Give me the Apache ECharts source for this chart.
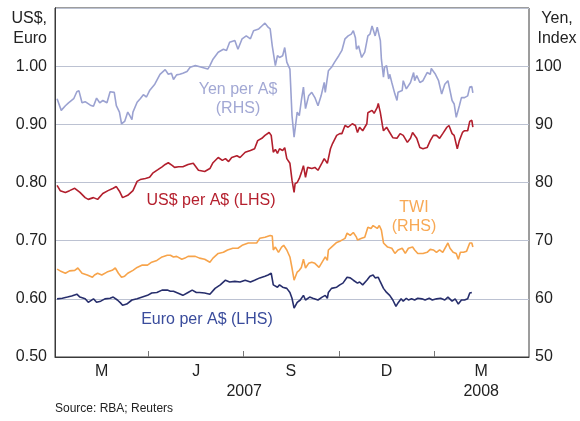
<!DOCTYPE html>
<html>
<head>
<meta charset="utf-8">
<script src="https://cdn.jsdelivr.net/npm/echarts@6/dist/echarts.min.js"></script>
<style>
  html, body { margin: 0; padding: 0; background: #fff; }
  #chart { width: 580px; height: 421px; }
</style>
</head>
<body>
<div id="chart"></div>
<script>
// x values are days since 1 Jan 2007
var quarterTicks = [90, 181, 273, 365];
var quarterLabelDays = [45, 136, 227, 319, 410];
var quarterLabels = ['M', 'J', 'S', 'D', 'M'];
var yearLabelDays = [182, 410];
var yearLabels = ['2007', '2008'];

// Yen per A$ (RHS)
var yenPoints = [
  [2,94.4],[6,92.4],[10,93.2],[13,93.7],[18,94.4],[21,95.6],[23,95.8],[26,93.7],[29,93.9],[34,93.3],
  [37,93.1],[40,94.5],[43,93.7],[46,94.1],[50,93.7],[53,95.6],[57,95.5],[59,93.2],[62,92.1],[64,90.1],
  [67,90.5],[70,92.1],[72,91.5],[74,90.8],[75,92.1],[79,93.8],[82,94.4],[85,95.1],[88,94.7],[91,95.8],
  [96,96.9],[101,98.6],[106,99.4],[109,98.6],[112,98.8],[114,97.7],[117,98.5],[120,98.6],[123,98.8],[127,99.1],
  [130,99.8],[133,100.0],[135,100.1],[141,99.8],[147,99.5],[149,100.1],[152,101.2],[157,102.4],[162,102.9],[165,102.7],
  [168,104.1],[173,104.4],[176,102.9],[180,104.7],[184,105.2],[188,104.7],[191,106.1],[196,106.4],[199,106.9],[202,107.4],
  [205,106.7],[207,106.4],[209,103.5],[212,100.1],[214,101.8],[216,101.5],[219,101.8],[221,103.2],[223,100.7],[226,99.5],
  [228,91.5],[230,87.8],[233,92.1],[235,91.5],[237,94.1],[239,96.4],[241,92.7],[244,94.9],[247,95.5],[250,94.6],
  [253,93.2],[256,94.9],[259,97.2],[260,95.5],[263,99.2],[266,99.8],[269,100.7],[273,101.8],[276,102.7],[279,104.7],
  [282,105.2],[285,105.5],[287,106.1],[289,104.9],[290,102.9],[292,103.5],[295,101.5],[298,102.4],[301,105.2],[303,105.5],
  [305,106.9],[308,105.2],[310,106.7],[313,104.4],[314,101.2],[316,98.1],[317,99.8],[319,100.1],[321,97.8],[322,98.6],
  [324,97.2],[327,95.2],[329,94.1],[330,95.5],[334,95.8],[335,97.5],[338,96.1],[342,97.2],[345,98.9],[346,97.5],
  [348,98.4],[351,97.2],[354,97.5],[358,98.9],[361,98.6],[362,99.6],[366,98.6],[369,97.5],[372,95.2],[375,96.9],
  [378,97.5],[382,94.1],[384,93.5],[386,91.2],[389,93.2],[391,94.6],[394,94.6],[397,94.9],[399,96.4],[401,96.5],
  [402,95.4]
];

// US$ per A$ (LHS)
var usdPoints = [
  [2,0.795],[5,0.786],[10,0.783],[14,0.786],[19,0.790],[24,0.783],[29,0.774],[32,0.771],[37,0.774],[41,0.771],
  [46,0.781],[51,0.786],[56,0.790],[59,0.793],[62,0.785],[65,0.774],[70,0.778],[75,0.786],[79,0.802],[82,0.805],
  [87,0.807],[91,0.809],[94,0.816],[99,0.822],[103,0.827],[106,0.831],[109,0.834],[113,0.829],[115,0.826],[119,0.827],
  [123,0.827],[128,0.831],[133,0.833],[138,0.821],[144,0.819],[149,0.824],[152,0.834],[157,0.843],[161,0.838],[164,0.841],
  [167,0.836],[170,0.843],[175,0.846],[178,0.843],[183,0.852],[188,0.855],[192,0.858],[195,0.872],[199,0.876],[202,0.881],
  [206,0.886],[208,0.881],[210,0.852],[212,0.857],[214,0.850],[216,0.858],[219,0.855],[221,0.860],[223,0.841],[226,0.833],
  [228,0.804],[230,0.783],[231,0.798],[233,0.800],[235,0.807],[237,0.817],[239,0.829],[241,0.809],[243,0.826],[247,0.824],
  [250,0.826],[253,0.821],[257,0.834],[259,0.841],[262,0.833],[265,0.858],[267,0.867],[271,0.881],[274,0.884],[276,0.884],
  [279,0.898],[282,0.895],[286,0.901],[289,0.898],[291,0.886],[293,0.895],[296,0.889],[300,0.901],[301,0.920],[305,0.924],
  [307,0.919],[310,0.929],[311,0.936],[313,0.920],[315,0.898],[316,0.889],[319,0.895],[322,0.886],[325,0.877],[329,0.876],
  [332,0.884],[335,0.881],[339,0.869],[342,0.876],[344,0.886],[348,0.876],[351,0.860],[354,0.858],[358,0.860],[361,0.872],
  [364,0.881],[367,0.881],[370,0.876],[373,0.884],[377,0.895],[379,0.898],[382,0.884],[384,0.881],[387,0.858],[389,0.872],
  [392,0.886],[394,0.889],[397,0.889],[399,0.905],[401,0.907],[402,0.895]
];

// TWI (RHS)
var twiPoints = [
  [2,65.1],[5,64.8],[10,64.4],[14,64.8],[19,64.9],[22,65.3],[26,64.4],[31,64.1],[36,63.7],[38,64.1],
  [41,64.4],[45,64.1],[50,64.6],[55,64.9],[58,65.3],[61,64.4],[64,63.7],[67,63.9],[70,64.4],[75,64.9],
  [79,65.4],[84,65.8],[89,65.8],[93,66.3],[98,66.6],[103,67.2],[108,67.5],[111,67.5],[114,67.2],[117,67.3],
  [122,66.8],[125,67.0],[128,67.3],[132,67.3],[135,67.3],[139,67.0],[144,66.8],[149,66.3],[152,67.0],[157,67.8],
  [162,68.0],[166,68.4],[171,68.7],[176,68.7],[180,69.2],[186,69.6],[190,69.6],[194,69.6],[197,70.4],[202,70.6],
  [207,70.9],[209,70.8],[210,68.4],[212,68.9],[215,68.0],[218,68.9],[220,69.2],[223,68.4],[226,67.2],[228,65.3],
  [230,63.2],[233,64.6],[235,64.9],[237,65.4],[239,66.8],[241,65.3],[244,66.1],[247,66.3],[250,66.1],[254,65.4],
  [257,66.3],[260,67.2],[262,66.6],[263,68.4],[266,68.9],[271,69.7],[274,69.9],[276,70.1],[279,70.4],[281,71.3],
  [284,70.9],[287,71.4],[290,70.6],[291,70.1],[295,70.4],[298,70.6],[301,72.3],[304,72.1],[306,72.6],[310,72.1],
  [312,72.6],[314,71.8],[316,69.6],[317,69.7],[320,68.9],[324,68.7],[327,67.8],[330,68.4],[334,68.7],[337,67.8],
  [340,68.7],[344,68.9],[346,68.4],[349,67.8],[354,67.8],[358,68.0],[361,68.5],[364,68.4],[367,68.0],[370,68.4],
  [373,68.0],[378,69.6],[380,68.7],[383,68.0],[386,67.8],[388,66.8],[390,68.0],[393,68.0],[396,68.2],[399,69.6],
  [401,69.6],[402,68.9]
];

// Euro per A$ (LHS)
var euroPoints = [
  [2,0.600],[7,0.601],[12,0.603],[16,0.605],[21,0.608],[24,0.603],[29,0.600],[32,0.594],[37,0.600],[40,0.594],
  [44,0.596],[48,0.600],[53,0.601],[56,0.603],[60,0.598],[63,0.593],[65,0.589],[69,0.591],[74,0.598],[79,0.600],
  [84,0.603],[89,0.606],[93,0.610],[98,0.611],[103,0.615],[108,0.615],[111,0.613],[114,0.613],[118,0.610],[123,0.606],
  [128,0.611],[132,0.615],[136,0.611],[139,0.611],[144,0.610],[149,0.608],[154,0.618],[159,0.624],[164,0.632],[168,0.629],
  [173,0.630],[178,0.629],[183,0.632],[188,0.629],[192,0.632],[197,0.636],[202,0.639],[205,0.641],[208,0.644],[210,0.624],
  [214,0.620],[216,0.624],[219,0.620],[223,0.618],[226,0.611],[228,0.601],[230,0.584],[233,0.594],[236,0.598],[239,0.606],
  [241,0.598],[245,0.603],[248,0.601],[253,0.598],[257,0.603],[260,0.606],[262,0.601],[263,0.611],[266,0.618],[271,0.620],
  [274,0.624],[277,0.627],[281,0.637],[284,0.636],[287,0.632],[291,0.627],[293,0.629],[296,0.624],[300,0.632],[303,0.639],
  [306,0.641],[308,0.636],[311,0.637],[313,0.629],[316,0.618],[319,0.611],[322,0.606],[325,0.598],[328,0.587],[330,0.593],
  [333,0.600],[335,0.596],[338,0.601],[340,0.598],[343,0.600],[346,0.598],[349,0.601],[353,0.600],[356,0.598],[360,0.601],
  [363,0.598],[367,0.600],[371,0.601],[375,0.598],[378,0.603],[382,0.596],[385,0.600],[388,0.591],[391,0.598],[394,0.598],
  [397,0.600],[399,0.610],[401,0.611]
];

var font = 'Liberation Sans, Arial, sans-serif';
var chart = echarts.init(document.getElementById('chart'));

function qLabel(v) {
  var i = quarterLabelDays.indexOf(Math.round(v));
  return i >= 0 ? quarterLabels[i] : '';
}
function yLabel(v) {
  var i = yearLabelDays.indexOf(Math.round(v));
  return i >= 0 ? yearLabels[i] : '';
}

chart.setOption({
  animation: false,
  backgroundColor: '#fff',
  grid: {
    left: 55, right: 51, top: 8, bottom: 64,
    show: true, borderColor: '#3a3a3a', borderWidth: 1
  },
  xAxis: [{
    type: 'value', min: 0, max: 456, position: 'bottom',
    axisLine: { show: true, lineStyle: { color: '#3a3a3a', width: 1 } },
    axisTick: { show: true, customValues: quarterTicks, inside: true, length: 6, lineStyle: { color: '#777' } },
    axisLabel: { customValues: quarterLabelDays, formatter: qLabel, fontSize: 16, color: '#222', fontFamily: font, margin: 7 },
    splitLine: { show: false }
  }, {
    type: 'value', min: 0, max: 456, position: 'bottom', offset: 20,
    axisLine: { show: false }, axisTick: { show: false },
    axisLabel: { customValues: yearLabelDays, formatter: yLabel, fontSize: 16, color: '#222', fontFamily: font, margin: 7 },
    splitLine: { show: false }
  }],
  yAxis: [{
    type: 'value', min: 0.5, max: 1.1, interval: 0.1, position: 'left',
    axisLine: { show: true, lineStyle: { color: '#3a3a3a' } },
    axisTick: { show: false },
    axisLabel: {
      formatter: function (v) { return v > 1.05 ? '' : v.toFixed(2); },
      fontSize: 16, color: '#222', fontFamily: font, margin: 8
    },
    splitLine: { show: true, lineStyle: { color: '#bcc2d2', width: 1 } }
  }, {
    type: 'value', min: 50, max: 110, interval: 10, position: 'right',
    axisLine: { show: true, lineStyle: { color: '#3a3a3a' } },
    axisTick: { show: false },
    axisLabel: {
      formatter: function (v) { return v > 105 ? '' : String(v); },
      fontSize: 16, color: '#222', fontFamily: font, margin: 6
    },
    splitLine: { show: false }
  }],
  series: [{
    name: 'Yen per A$', type: 'line', yAxisIndex: 1, data: yenPoints,
    showSymbol: false, lineStyle: { color: '#9ba2d1', width: 1.6 }, z: 2
  }, {
    name: 'US$ per A$', type: 'line', yAxisIndex: 0, data: usdPoints,
    showSymbol: false, lineStyle: { color: '#b21f2d', width: 1.6 }, z: 3
  }, {
    name: 'TWI', type: 'line', yAxisIndex: 1, data: twiPoints,
    showSymbol: false, lineStyle: { color: '#f7a44b', width: 1.6 }, z: 2
  }, {
    name: 'Euro per A$', type: 'line', yAxisIndex: 0, data: euroPoints,
    showSymbol: false, lineStyle: { color: '#272e6c', width: 1.6 }, z: 3
  }],
  graphic: [
    { type: 'text', left: null, x: 47, y: 9, style: { text: 'US$,\nEuro', font: '16px ' + font, fill: '#222', align: 'right', lineHeight: 20 } },
    { type: 'text', x: 557, y: 9, style: { text: 'Yen,\nIndex', font: '16px ' + font, fill: '#222', align: 'center', lineHeight: 20 } },
    { type: 'text', x: 238, y: 80, style: { text: 'Yen per A$\n(RHS)', font: '16px ' + font, fill: '#a2a8d4', align: 'center', lineHeight: 19 } },
    { type: 'text', x: 211, y: 193, style: { text: 'US$ per A$ (LHS)', font: '16px ' + font, fill: '#b5202e', align: 'center' } },
    { type: 'text', x: 414, y: 198, style: { text: 'TWI\n(RHS)', font: '16px ' + font, fill: '#f8a955', align: 'center', lineHeight: 19 } },
    { type: 'text', x: 207, y: 312, style: { text: 'Euro per A$ (LHS)', font: '16px ' + font, fill: '#3a4c9c', align: 'center' } },
    { type: 'text', x: 55, y: 403, style: { text: 'Source: RBA; Reuters', font: '12px ' + font, fill: '#222', align: 'left' } }
  ]
});
</script>
</body>
</html>
